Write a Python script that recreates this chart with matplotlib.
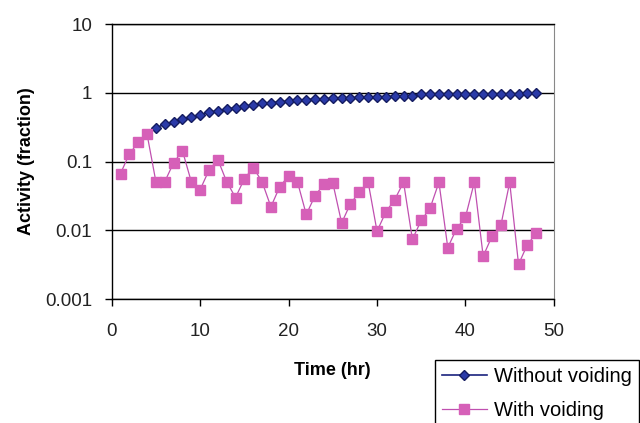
import matplotlib
matplotlib.use("Agg")
import matplotlib.pyplot as plt
from matplotlib.ticker import FuncFormatter, NullLocator

plt.rcParams['font.family'] = ['Liberation Sans', 'DejaVu Sans']

# Without voiding (hourly from 5 hr)
hours_no_void = list(range(5, 49))
activity_no_void = [0.31, 0.35, 0.38, 0.42, 0.45, 0.48, 0.52, 0.55, 0.58, 0.61,
                    0.64, 0.67, 0.70, 0.72, 0.74, 0.76, 0.78, 0.80, 0.81, 0.82,
                    0.83, 0.84, 0.85, 0.86, 0.87, 0.88, 0.88, 0.89, 0.89, 0.90,
                    0.95, 0.95, 0.95, 0.95, 0.96, 0.96, 0.96, 0.96, 0.96, 0.96,
                    0.97, 0.97, 1.00, 1.00]

# With voiding (hourly from 1 hr)
hours_void = list(range(1, 49))
activity_void = [0.067, 0.13, 0.19, 0.25, 0.051, 0.051, 0.096, 0.144, 0.051, 0.039,
                 0.075, 0.107, 0.051, 0.030, 0.056, 0.082, 0.051, 0.022, 0.043, 0.062,
                 0.051, 0.017, 0.032, 0.047, 0.049, 0.0128, 0.0245, 0.036, 0.050, 0.0097,
                 0.0185, 0.028, 0.050, 0.0074, 0.014, 0.021, 0.050, 0.0056, 0.0106, 0.0156,
                 0.050, 0.0042, 0.0082, 0.0118, 0.050, 0.0032, 0.0062, 0.0091]

fig = plt.figure(figsize=(6.4, 4.23), dpi=100)
ax = fig.add_axes([0.1745, 0.293, 0.691, 0.650])

ax.plot(hours_no_void, activity_no_void, color='#1a237e', lw=1.2, marker='D',
        markersize=5.5, markerfacecolor='#2a3aa8', markeredgecolor='#141c60',
        label='Without voiding', zorder=3)
ax.plot(hours_void, activity_void, color='#c050b0', lw=0.9, marker='s',
        markersize=6.5, markerfacecolor='#d660b8', markeredgecolor='#d660b8',
        label='With voiding', zorder=4)

ax.set_yscale('log')
ax.set_ylim(0.001, 10)
ax.set_xlim(0, 50)
ax.set_xticks(range(0, 51, 10))
ax.set_yticks([0.001, 0.01, 0.1, 1, 10])
ax.yaxis.set_major_formatter(FuncFormatter(lambda v, p: f'{v:g}'))
ax.yaxis.set_minor_locator(NullLocator())

ax.grid(axis='y', color='black', lw=1.0)
ax.set_axisbelow(True)
for side in ['left', 'bottom', 'top']:
    ax.spines[side].set_color('black')
    ax.spines[side].set_linewidth(1.0)
ax.spines['right'].set_color('#888888')
ax.tick_params(direction='out', length=5, width=1, labelsize=13.5, colors='black',
               labelcolor='#222222')
ax.tick_params(axis='y', pad=9)
ax.tick_params(axis='x', pad=12)

ax.set_xlabel('Time (hr)', fontsize=13, fontweight='bold', labelpad=16)
ax.set_ylabel('Activity (fraction)', fontsize=13, fontweight='bold', labelpad=7)

leg = fig.legend(loc='upper left', bbox_to_anchor=(0.680, 0.150), fontsize=14.5,
                 frameon=True, fancybox=False, edgecolor='black', framealpha=1,
                 handlelength=2.2, borderpad=0.35, labelspacing=0.75, handletextpad=0.35,
                 borderaxespad=0)
leg.get_frame().set_linewidth(1.0)

fig.savefig('out.png', dpi=100)
